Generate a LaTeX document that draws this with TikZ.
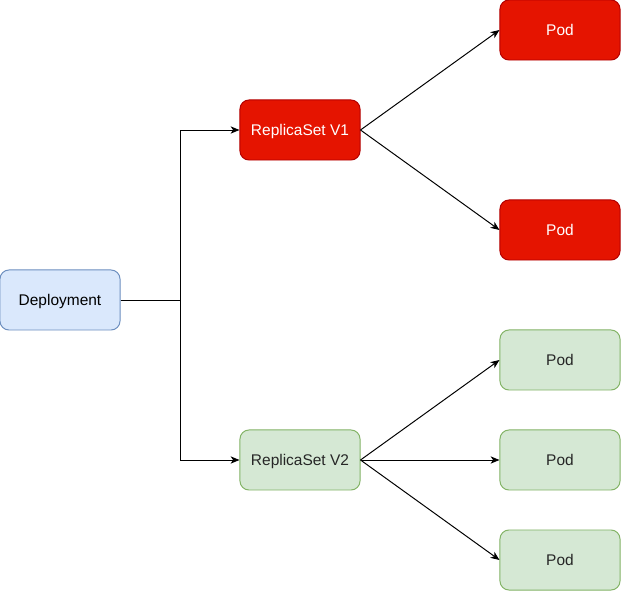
\documentclass[tikz,border=0pt]{standalone}
\usepackage{fontspec}
\setmainfont{Liberation Sans}
\usetikzlibrary{arrows.meta, positioning}

\definecolor{blueFill}{HTML}{DAE8FC}
\definecolor{blueLine}{HTML}{6C8EBF}
\definecolor{greenFill}{HTML}{D5E8D4}
\definecolor{greenLine}{HTML}{82B366}
\definecolor{redFill}{HTML}{E51400}
\definecolor{redLine}{HTML}{B20000}

\begin{document}
\begin{tikzpicture}[
  x=0.025cm, y=-0.025cm,
  box/.style = {
    rounded corners=6.4pt,
    draw,
    align=center,
    font=\fontsize{11}{13}\selectfont,
    text height=8.5pt,
    text depth=0.6pt,
    minimum width=3cm,
    minimum height=1.5cm,
    inner sep=0pt,
    line width=0.7pt
  },
  arrow/.style = {-{Stealth[length=2.2mm, width=1.8mm, inset=0.6mm]}, line width=0.7pt},
  deploy/.style = {box, fill=blueFill, draw=blueLine},
  oldset/.style = {box, fill=redFill, draw=redLine, text=white},
  newset/.style = {box, fill=greenFill, draw=greenLine, text=black!85}
]
\useasboundingbox (0,0) rectangle (621,591);

% Deployment (left)
\node[deploy] (D) at (60,300) {Deployment};

% ReplicaSets (middle)
\node[oldset] (R1) at (300,130) {ReplicaSet V1};
\node[newset] (R2) at (300,460) {ReplicaSet V2};

% Pods (right)
\node[oldset] (P1) at (560,30) {Pod};
\node[oldset] (P2) at (560,230) {Pod};
\node[newset] (P3) at (560,360) {Pod};
\node[newset] (P4) at (560,460) {Pod};
\node[newset] (P5) at (560,560) {Pod};

\coordinate (J) at (180,300);

% Deployment -> ReplicaSets
\draw[arrow] (D.east) -- (J) |- (R1.west);
\draw[arrow] (D.east) -- (J) |- (R2.west);

% ReplicaSets -> Pods
\draw[arrow] (R1.east) -- (P1.west);
\draw[arrow] (R1.east) -- (P2.west);
\draw[arrow] (R2.east) -- (P3.west);
\draw[arrow] (R2.east) -- (P4.west);
\draw[arrow] (R2.east) -- (P5.west);

\end{tikzpicture}
\end{document}
